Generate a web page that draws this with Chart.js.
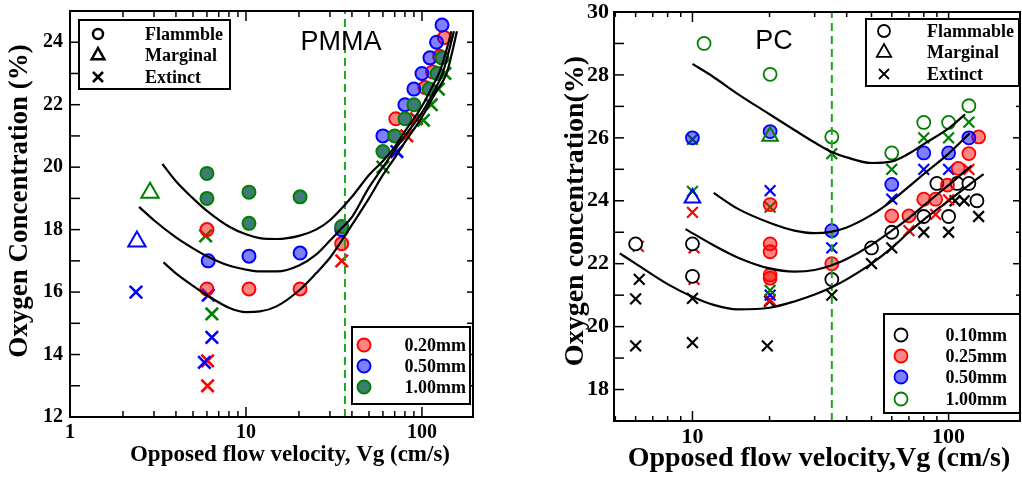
<!DOCTYPE html>
<html>
<head>
<meta charset="utf-8">
<script src="https://cdn.jsdelivr.net/npm/chart.js@4.4.1/dist/chart.umd.min.js"></script>
<style>
  html, body { margin:0; padding:0; background:#ffffff; overflow:hidden; }
  #wrap { position:relative; width:1022px; height:477px; background:#fff; }
  canvas { position:absolute; top:0; }
  #pmma { left:0; }
  #pc { left:500px; }
</style>
</head>
<body>
<div id="wrap">
  <canvas id="pmma" width="490" height="477" style="width:490px;height:477px"></canvas>
  <canvas id="pc" width="522" height="477" style="width:522px;height:477px"></canvas>
</div>
<script>
// ================= DATA =================
// ---- PMMA panel ----
const pmmaXTickLabels = [1, 10, 100];
const pmmaXMinorTicks = [2,3,4,5,6,7,8,9,20,30,40,50,60,70,80,90];
const pmmaYTickLabels = [12, 14, 16, 18, 20, 22, 24];
const pmmaYAllTicks   = [13,14,15,16,17,18,19,20,21,22,23,24];
const pmmaSizes = ['0.20mm', '0.50mm', '1.00mm'];
const pmmaStates = ['Flammble', 'Marginal', 'Extinct'];

const pmmaFlam020 = [[6.0,18.0],[6.0,16.1],[10.4,16.1],[20.3,16.1],[35,17.55],[71,21.55],[104,22.55],[115,23.05],[126,23.55],[134,24.15]];
const pmmaFlam050 = [[6.1,17.0],[10.4,17.15],[20.3,17.25],[35,18.0],[60,21.0],[80,22.0],[90,22.5],[100,23.0],[111,23.5],[121,24.0],[130,24.55]];
const pmmaFlam100 = [[6.0,19.8],[6.0,19.0],[10.4,19.2],[10.4,18.2],[20.3,19.05],[35,18.1],[60,20.5],[70,21.0],[80,21.55],[90,22.0],[110,22.5],[122,23.0],[130,23.5]];
const pmmaMarg050 = [[2.4,17.62]];
const pmmaMarg100 = [[2.85,19.18]];
const pmmaExt020 = [[6.05,13.8],[6.05,13.0],[35,17.0],[82,21.0],[93,21.55]];
const pmmaExt050 = [[2.37,16.0],[6.1,15.9],[6.4,14.55],[5.8,13.75],[72,20.5]];
const pmmaExt100 = [[5.9,17.8],[6.4,15.3],[60,20.0],[102,21.5],[113,22.0],[124,22.5],[135,23.0]];

const pmmaFitUpper  = [[3.35,20.1],[4,19.55],[5,19.0],[6,18.6],[8,18.1],[10,17.85],[12,17.73],[15,17.7],[20,17.8],[25,18.0],[30,18.3],[40,19.05],[50,19.75],[60,20.2],[70,20.65],[80,21.15],[100,21.95],[115,22.6],[126,23.05],[137,23.7],[147,24.35]];
const pmmaFitMiddle = [[2.47,18.73],[3,18.3],[4,17.75],[5,17.4],[6,17.15],[8,16.85],[10,16.72],[12,16.66],[15,16.66],[20,16.85],[25,17.2],[30,17.65],[35,18.05],[40,18.4],[50,19.35],[60,20.0],[70,20.55],[80,21.0],[100,21.75],[115,22.35],[131,23.0],[142,23.7],[152,24.35]];
const pmmaFitLower  = [[3.4,16.95],[4,16.6],[5,16.2],[6,15.9],[8,15.5],[10,15.36],[12,15.38],[15,15.55],[20,16.05],[25,16.6],[30,17.1],[35,17.65],[40,18.15],[50,19.0],[60,19.75],[70,20.3],[80,20.8],[100,21.6],[120,22.4],[138,23.0],[148,23.65],[158,24.35]];
const pmmaCriticalVg = [36.5];

// ---- PC panel ----
const pcXTickLabels = [10, 100];
const pcXMinorTicks = [5,6,7,8,9,20,30,40,50,60,70,80,90];
const pcYTickLabels = [18, 20, 22, 24, 26, 28, 30];
const pcYAllTicks   = [18,19,20,21,22,23,24,25,26,27,28,29];
const pcSizes = ['0.10mm', '0.25mm', '0.50mm', '1.00mm'];
const pcStates = ['Flammable', 'Marginal', 'Extinct'];

const pcFlam010 = [[6.0,22.63],[10,22.63],[10,21.6],[35,21.5],[50,22.5],[60,23.0],[80,23.5],[100,23.5],[90,24.55],[108,24.55],[120,24.55],[129,24.0]];
const pcFlam025 = [[20.1,23.88],[20.1,22.63],[20.1,22.38],[20.1,21.64],[20.1,21.54],[35,22.0],[60,23.52],[70,23.52],[80,24.05],[89,24.05],[99,24.5],[109,25.03],[120,25.5],[131,26.03]];
const pcFlam050 = [[10,26.0],[20.1,26.2],[35,23.05],[60,24.52],[80,25.52],[100,25.52],[120,26.0]];
const pcFlam100 = [[11.1,29.0],[20.1,28.02],[35,26.03],[60,25.52],[80,26.49],[100,26.49],[120,27.02]];
const pcMarg050 = [[10,24.09]];
const pcMarg100 = [[20.1,26.05]];
const pcExt010 = [[6.0,20.88],[6.2,21.5],[6.0,19.39],[10,20.9],[10,19.49],[19.6,19.39],[20,20.8],[35,21.0],[50,22.0],[60,22.5],[80,23.0],[100,23.0],[106,24.0],[115,24.0],[131,23.5]];
const pcExt025 = [[6.15,22.55],[10.15,22.5],[10.15,21.5],[10,23.63],[20.1,20.85],[70,23.05],[89,23.57],[100,24.03],[120,25.0]];
const pcExt050 = [[20.1,24.32],[20.1,21.0],[35,22.5],[60,24.05],[80,25.0],[100,25.0]];
const pcExt100 = [[10,24.3],[10,25.95],[20.1,23.8],[20.1,21.15],[35,25.5],[60,25.0],[80,26.0],[100,26.0],[120,26.5]];

const pcFit100 = [[10,28.35],[12,27.95],[15,27.4],[20,26.75],[25,26.25],[30,25.85],[35,25.55],[40,25.38],[50,25.2],[60,25.25],[70,25.5],[80,25.8],[100,26.3],[116,26.75]];
const pcFit050 = [[12.1,24.25],[15,23.75],[20,23.3],[25,23.05],[30,22.97],[35,23.02],[40,23.15],[50,23.55],[60,24.0],[70,24.45],[80,24.85],[100,25.5],[121,26.15]];
const pcFit025 = [[9.4,23.1],[12,22.6],[15,22.2],[20,21.85],[25,21.75],[30,21.8],[35,21.95],[40,22.15],[50,22.6],[60,23.05],[70,23.45],[80,23.85],[100,24.5],[123,25.12]];
const pcFit010 = [[5.2,22.33],[6,22.0],[8,21.35],[10,20.95],[12,20.7],[15,20.55],[20,20.6],[25,20.8],[30,21.02],[35,21.25],[40,21.5],[50,22.0],[60,22.5],[70,23.0],[80,23.4],[100,24.0],[120,24.5],[137,24.85]];
const pcCriticalVg = [35];

// ================= STYLE =================
const SERIF = "'Liberation Serif', 'Times New Roman', serif";
const SANS = "'Liberation Sans', Arial, sans-serif";
const RED = '#ff0000', RED_FILL = 'rgba(255,0,0,0.48)';
const BLUE = '#0000ff', BLUE_FILL = 'rgba(0,0,255,0.5)';
const GREEN = '#008000', GREEN_DARK = '#3f7b76';
const DASH_GREEN = '#1ca51c';

const toXY = arr => arr.map(p => ({x: p[0], y: p[1]}));

function markers(data, style, stroke, fill, radius, bw, order) {
  return {
    type: 'scatter', data: toXY(data), showLine: false,
    pointStyle: style, pointRadius: radius, pointHoverRadius: radius,
    borderColor: stroke, backgroundColor: fill, pointBorderWidth: bw, borderWidth: bw,
    order: order
  };
}
function curve(data, order) {
  return {
    type: 'scatter', data: toXY(data), showLine: true, pointRadius: 0,
    borderColor: '#000', borderWidth: 2.2, cubicInterpolationMode: 'monotone',
    fill: false, order: order
  };
}
function vline(xv, ymin, ymax) {
  return {
    type: 'scatter', data: [{x: xv, y: ymin}, {x: xv, y: ymax}], showLine: true, pointRadius: 0,
    borderColor: DASH_GREEN, borderWidth: 2, borderDash: [8, 5], order: 1
  };
}

function drawSym(ctx, kind, x, y, s, stroke, fill, lw) {
  ctx.save();
  ctx.strokeStyle = stroke; ctx.lineWidth = lw;
  ctx.beginPath();
  if (kind === 'circle') {
    ctx.arc(x, y, s, 0, Math.PI * 2);
    if (fill) { ctx.fillStyle = fill; ctx.fill(); }
    ctx.stroke();
  } else if (kind === 'triangle') {
    ctx.moveTo(x, y - s); ctx.lineTo(x + s * 0.9, y + s * 0.6); ctx.lineTo(x - s * 0.9, y + s * 0.6); ctx.closePath();
    ctx.stroke();
  } else {
    ctx.moveTo(x - s, y - s); ctx.lineTo(x + s, y + s);
    ctx.moveTo(x + s, y - s); ctx.lineTo(x - s, y + s);
    ctx.stroke();
  }
  ctx.restore();
}

const decor = {
  id: 'decor',
  afterDatasetsDraw(chart, args, o) {
    const ctx = chart.ctx, a = chart.chartArea, xs = chart.scales.x, ys = chart.scales.y;
    ctx.save();
    ctx.strokeStyle = '#000';
    ctx.lineWidth = 1.5;
    const seg = (x1, y1, x2, y2) => { ctx.beginPath(); ctx.moveTo(x1, y1); ctx.lineTo(x2, y2); ctx.stroke(); };
    o.xMajor.forEach(v => { const p = xs.getPixelForValue(v); if (p > a.left + 1 && p < a.right - 1) { seg(p, a.bottom, p, a.bottom - o.xMajorLen); seg(p, a.top, p, a.top + o.xMajorLen); } });
    o.xMinor.forEach(v => { const p = xs.getPixelForValue(v); if (p > a.left + 1 && p < a.right - 1) { seg(p, a.bottom, p, a.bottom - o.xMinorLen); seg(p, a.top, p, a.top + o.xMinorLen); } });
    o.yAll.forEach(v => {
      const p = ys.getPixelForValue(v);
      const major = o.yMajor.includes(v);
      seg(a.left, p, a.left + (major ? o.yLeftMajor : o.yLeftMinor), p);
      seg(a.right, p, a.right - (major ? o.yRightMajor : o.yRightMinor), p);
    });
    ctx.lineWidth = 2;
    ctx.strokeRect(a.left, a.top, a.right - a.left, a.bottom - a.top);

    o.legends.forEach(L => {
      ctx.fillStyle = '#fff';
      ctx.fillRect(L.box[0], L.box[1], L.box[2], L.box[3]);
      ctx.lineWidth = 2; ctx.strokeStyle = '#000';
      ctx.strokeRect(L.box[0], L.box[1], L.box[2], L.box[3]);
      L.items.forEach((it, i) => {
        const y = L.ys[i];
        drawSym(ctx, it.kind, L.symX, y, it.size, it.stroke, it.fill, it.lw);
        ctx.fillStyle = '#000';
        ctx.font = 'bold ' + L.fontSize + 'px ' + SERIF;
        ctx.textAlign = L.align; ctx.textBaseline = 'middle';
        ctx.fillText(it.label, L.textX, y + 1);
      });
    });

    o.texts.forEach(t => {
      ctx.save();
      ctx.translate(t.x, t.y);
      if (t.rot) ctx.rotate(t.rot);
      ctx.fillStyle = '#000';
      ctx.font = t.font;
      ctx.textAlign = 'center';
      ctx.textBaseline = t.baseline || 'middle';
      ctx.fillText(t.text, 0, 0);
      ctx.restore();
    });
    ctx.restore();
  }
};

function scales(c) {
  return {
    x: {
      type: 'logarithmic', min: c.xMin, max: c.xMax,
      grid: { display: false, drawTicks: false }, border: { display: false },
      afterBuildTicks: s => { s.ticks = c.xLabels.map(v => ({ value: v })); },
      afterFit: s => { s.height = c.xAxisH; s.paddingLeft = 0; s.paddingRight = 0; s.paddingTop = 0; s.paddingBottom = 0; },
      ticks: { autoSkip: false, maxRotation: 0, minRotation: 0, padding: c.xPad, color: '#000',
               font: { family: SERIF, weight: 'bold', size: c.tickSize }, callback: v => String(v) }
    },
    y: {
      type: 'linear', min: c.yMin, max: c.yMax,
      grid: { display: false, drawTicks: false }, border: { display: false },
      afterBuildTicks: s => { s.ticks = c.yLabels.map(v => ({ value: v })); },
      afterFit: s => { s.width = c.yAxisW; s.paddingLeft = 0; s.paddingRight = 0; s.paddingTop = 0; s.paddingBottom = 0; },
      ticks: { autoSkip: false, padding: c.yPad, color: '#000',
               font: { family: SERIF, weight: 'bold', size: c.tickSize }, callback: v => String(v) }
    }
  };
}

const baseOpts = {
  responsive: false, maintainAspectRatio: false, devicePixelRatio: 1, animation: false,
  events: []
};

// ---------- PMMA chart ----------
new Chart(document.getElementById('pmma'), {
  type: 'scatter',
  data: {
    datasets: [
      curve(pmmaFitUpper, 0), curve(pmmaFitMiddle, 0), curve(pmmaFitLower, 0),
      vline(pmmaCriticalVg[0], 12, 25),
      markers(pmmaMarg100, 'triangle', GREEN, 'rgba(0,0,0,0)', 10, 2, 2),
      markers(pmmaMarg050, 'triangle', BLUE, 'rgba(0,0,0,0)', 10, 2, 2),
      markers(pmmaFlam100, 'circle', GREEN, GREEN_DARK, 6.5, 2, 3),
      markers(pmmaFlam050, 'circle', BLUE, BLUE_FILL, 6.5, 2, 4),
      markers(pmmaFlam020, 'circle', RED, RED_FILL, 6.5, 2, 5),
      markers(pmmaExt100, 'crossRot', GREEN, GREEN, 8.8, 2.6, 6),
      markers(pmmaExt050, 'crossRot', BLUE, BLUE, 8.8, 2.6, 7),
      markers(pmmaExt020, 'crossRot', RED, RED, 8.8, 2.6, 8)
    ]
  },
  options: Object.assign({}, baseOpts, {
    layout: { autoPadding: false, padding: { left: 0, right: 17, top: 11, bottom: 0 } },
    scales: scales({ xMin: 1, xMax: 195, yMin: 12, yMax: 25, xLabels: pmmaXTickLabels, yLabels: pmmaYTickLabels,
                     xAxisH: 60, yAxisW: 70, xPad: 4, yPad: 7, tickSize: 20 }),
    plugins: {
      legend: { display: false }, tooltip: { enabled: false },
      decor: {
        xMajor: pmmaXTickLabels, xMinor: pmmaXMinorTicks, xMajorLen: 10, xMinorLen: 6,
        yAll: pmmaYAllTicks, yMajor: pmmaYTickLabels, yLeftMajor: 10, yLeftMinor: 10, yRightMajor: 6, yRightMinor: 6,
        legends: [
          { box: [79, 20, 151, 69], symX: 98, textX: 145, align: 'left', fontSize: 18, ys: [34, 55, 77],
            items: [
              { kind: 'circle', size: 5, stroke: '#000', fill: null, lw: 2.5, label: pmmaStates[0] },
              { kind: 'triangle', size: 7, stroke: '#000', fill: null, lw: 2.5, label: pmmaStates[1] },
              { kind: 'cross', size: 5, stroke: '#000', fill: null, lw: 2.5, label: pmmaStates[2] }
            ] },
          { box: [352, 327, 118, 77], symX: 364, textX: 466, align: 'right', fontSize: 18, ys: [345, 366, 387],
            items: [
              { kind: 'circle', size: 6.5, stroke: RED, fill: RED_FILL, lw: 2, label: pmmaSizes[0] },
              { kind: 'circle', size: 6.5, stroke: BLUE, fill: BLUE_FILL, lw: 2, label: pmmaSizes[1] },
              { kind: 'circle', size: 6.5, stroke: GREEN, fill: GREEN_DARK, lw: 2, label: pmmaSizes[2] }
            ] }
        ],
        texts: [
          { text: 'PMMA', x: 341, y: 43, font: '27px ' + SANS },
          { text: 'Opposed flow velocity, Vg (cm/s)', x: 290, y: 461, baseline: 'alphabetic', font: 'bold 23px ' + SERIF },
          { text: 'Oxygen Concentration (%)', x: 20, y: 201, rot: -Math.PI / 2, font: 'bold 27px ' + SERIF }
        ]
      }
    }
  }),
  plugins: [decor]
});

// ---------- PC chart ----------
new Chart(document.getElementById('pc'), {
  type: 'scatter',
  data: {
    datasets: [
      curve(pcFit100, 0), curve(pcFit050, 0), curve(pcFit025, 0), curve(pcFit010, 0),
      vline(pcCriticalVg[0], 17, 30),
      markers(pcMarg100, 'triangle', GREEN, 'rgba(0,0,0,0)', 9, 2, 2),
      markers(pcMarg050, 'triangle', BLUE, 'rgba(0,0,0,0)', 9, 2, 2),
      markers(pcFlam100, 'circle', GREEN, '#ffffff', 6.5, 1.8, 3),
      markers(pcFlam050, 'circle', BLUE, BLUE_FILL, 6.5, 1.8, 4),
      markers(pcFlam025, 'circle', RED, RED_FILL, 6.5, 1.8, 5),
      markers(pcFlam010, 'circle', '#000', '#ffffff', 6.5, 1.8, 6),
      markers(pcExt100, 'crossRot', GREEN, GREEN, 7.6, 2.2, 7),
      markers(pcExt050, 'crossRot', BLUE, BLUE, 7.6, 2.2, 8),
      markers(pcExt025, 'crossRot', RED, RED, 7.6, 2.2, 9),
      markers(pcExt010, 'crossRot', '#000', '#000', 7.6, 2.2, 10)
    ]
  },
  options: Object.assign({}, baseOpts, {
    layout: { autoPadding: false, padding: { left: 0, right: 2, top: 12, bottom: 0 } },
    scales: scales({ xMin: 4.94, xMax: 190, yMin: 17, yMax: 30, xLabels: pcXTickLabels, yLabels: pcYTickLabels,
                     xAxisH: 56, yAxisW: 114, xPad: 3, yPad: 5, tickSize: 22 }),
    plugins: {
      legend: { display: false }, tooltip: { enabled: false },
      decor: {
        xMajor: pcXTickLabels, xMinor: pcXMinorTicks, xMajorLen: 10, xMinorLen: 5,
        yAll: pcYAllTicks, yMajor: pcYTickLabels, yLeftMajor: 10, yLeftMinor: 10, yRightMajor: 7, yRightMinor: 4,
        legends: [
          { box: [366, 19, 153, 67], symX: 384, textX: 427, align: 'left', fontSize: 18, ys: [31, 52, 74],
            items: [
              { kind: 'circle', size: 6, stroke: '#000', fill: null, lw: 1.8, label: pcStates[0] },
              { kind: 'triangle', size: 8, stroke: '#000', fill: null, lw: 1.8, label: pcStates[1] },
              { kind: 'cross', size: 5, stroke: '#000', fill: null, lw: 1.8, label: pcStates[2] }
            ] },
          { box: [384, 314, 136, 99], symX: 401, textX: 507, align: 'right', fontSize: 18, ys: [335, 356, 377, 399],
            items: [
              { kind: 'circle', size: 6.5, stroke: '#000', fill: '#fff', lw: 1.8, label: pcSizes[0] },
              { kind: 'circle', size: 6.5, stroke: RED, fill: RED_FILL, lw: 1.8, label: pcSizes[1] },
              { kind: 'circle', size: 6.5, stroke: BLUE, fill: BLUE_FILL, lw: 1.8, label: pcSizes[2] },
              { kind: 'circle', size: 6.5, stroke: GREEN, fill: '#fff', lw: 1.8, label: pcSizes[3] }
            ] }
        ],
        texts: [
          { text: 'PC', x: 274, y: 42, font: '27px ' + SANS },
          { text: 'Opposed flow velocity,Vg (cm/s)', x: 319, y: 466, baseline: 'alphabetic', font: 'bold 28px ' + SERIF },
          { text: 'Oxygen concentration(%)', x: 76, y: 211, rot: -Math.PI / 2, font: 'bold 28px ' + SERIF }
        ]
      }
    }
  }),
  plugins: [decor]
});
</script>
</body>
</html>
